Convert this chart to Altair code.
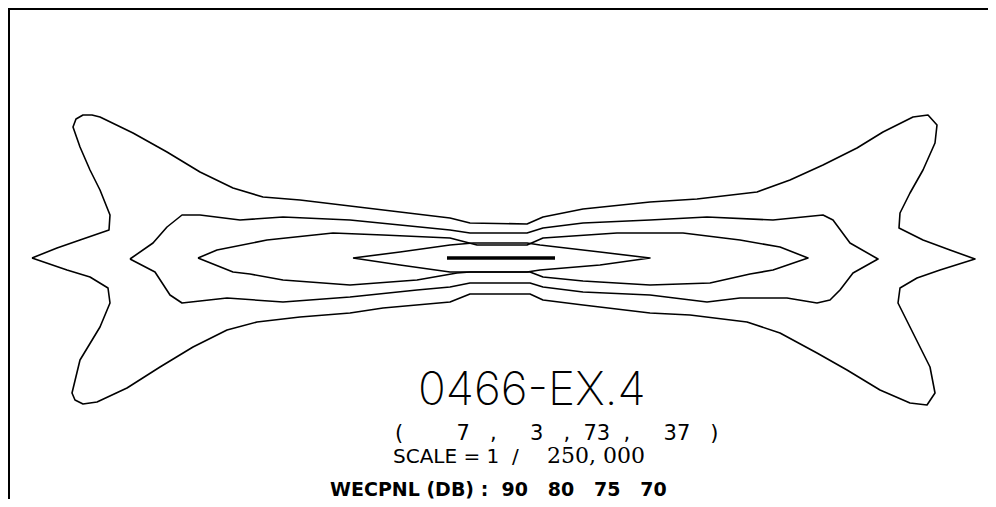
import altair as alt
import pandas as pd

# Noise contour map 0466-EX.4 (WECPNL). Coordinates in map units (left->right, top->down)

levels = ["70", "75", "80", "90"]

c70_x = [32, 57, 80, 109, 110, 100, 90, 80, 73, 76, 83, 92, 100, 133, 167, 200, 233, 263, 300, 350, 400, 450, 470,
         527, 543, 583, 650, 697, 757, 790, 823, 857, 883, 913, 928, 937, 935, 923, 910, 900, 899, 923, 950, 975,
         940, 917, 900, 898, 913, 930, 935, 927, 910, 880, 847, 817, 780, 747, 690, 650, 583, 543, 530, 470, 450,
         383, 350, 300, 257, 227, 193, 160, 127, 97, 83, 75, 72, 80, 100, 110, 108, 90, 67]
c70_y = [258, 248, 240, 230, 215, 190, 170, 147, 127, 119, 115, 115, 117, 133, 152, 172, 188, 197, 200, 206, 212, 218, 223,
         224, 217, 209, 202, 199, 192, 180, 165, 148, 132, 117, 115, 125, 143, 170, 193, 213, 228, 240, 250, 259,
         270, 278, 288, 303, 333, 367, 393, 405, 403, 390, 370, 353, 333, 322, 315, 313, 305, 300, 294, 294, 302,
         308, 313, 317, 322, 330, 347, 367, 388, 402, 404, 400, 393, 360, 327, 303, 288, 277, 270]

c75_x = [130, 153, 167, 182, 200, 240, 283, 350, 400, 450, 470, 527, 543, 583, 650, 707, 773, 823, 833, 850, 878,
         853, 840, 830, 817, 787, 740, 707, 650, 583, 543, 530, 470, 450, 417, 350, 283, 227, 182, 170, 155]
c75_y = [259, 243, 227, 215, 215, 220, 217, 220, 225, 230, 233, 233, 228, 223, 220, 217, 220, 215, 220, 243, 259,
         273, 290, 300, 303, 298, 298, 302, 295, 292, 287, 283, 283, 287, 290, 297, 302, 298, 303, 295, 272]

c80_x = [198, 217, 267, 333, 383, 450, 477, 527, 543, 617, 683, 740, 780, 808,
         773, 750, 710, 650, 583, 543, 530, 470, 457, 417, 350, 283, 250, 233]
c80_y = [258, 250, 240, 233, 235, 238, 245, 245, 238, 233, 233, 240, 247, 258,
         270, 274, 283, 285, 281, 277, 272, 272, 273, 280, 285, 280, 274, 272]

c90_x = [353, 400, 450, 473, 527, 540, 600, 650, 600, 540, 527, 473, 450, 400]
c90_y = [258, 252, 245, 243, 243, 245, 252, 258, 265, 270, 272, 272, 272, 265]

runway_x = [447, 555]
runway_y = [258, 258]

NB = "\u00a0"
title_text = "0466-EX.4"
params_text = ("(" + NB * 8 + "7" + NB * 3 + "," + NB * 5 + "3" + NB * 3 + "," + NB * 2 + "73"
               + NB * 2 + "," + NB * 5 + "37" + NB * 3 + ")")
scale_label = "SCALE" + NB + "=" + NB + "1" + NB * 2 + "/"
scale_value = "250," + NB + "000"
legend_text = ("WECPNL" + NB + "(DB)" + NB + ":" + NB * 2 + "90" + NB * 3 + "80" + NB * 3 + "75" + NB * 3 + "70")

rows = []
for lev, xs, ys in [("70", c70_x, c70_y), ("75", c75_x, c75_y), ("80", c80_x, c80_y), ("90", c90_x, c90_y)]:
    pts = list(zip(xs, ys)) + [(xs[0], ys[0])]
    for i, (px, py) in enumerate(pts):
        rows.append({"level": lev, "i": i, "x": px, "y": py})
contours = pd.DataFrame(rows)
runway = pd.DataFrame({"x": runway_x, "y": runway_y, "i": [0, 1]})

W, H = 980, 491
xs = alt.Scale(domain=[8, 988], nice=False, zero=False)
ys = alt.Scale(domain=[8, 499], nice=False, zero=False, reverse=True)

lines = alt.Chart(contours).mark_line(color="black", strokeWidth=1.6, strokeJoin="round").encode(
    x=alt.X("x:Q", scale=xs, axis=None),
    y=alt.Y("y:Q", scale=ys, axis=None),
    detail="level:N",
    order="i:Q",
)

rw = alt.Chart(runway).mark_line(color="black", strokeWidth=3.5).encode(
    x=alt.X("x:Q", scale=xs, axis=None),
    y=alt.Y("y:Q", scale=ys, axis=None),
    order="i:Q",
)

one = pd.DataFrame({"k": [0]})
top_border = alt.Chart(one).mark_rule(color="black", strokeWidth=2).encode(
    x=alt.value(0), x2=alt.value(W), y=alt.value(1))
left_border = alt.Chart(one).mark_rule(color="black", strokeWidth=2).encode(
    x=alt.value(1), y=alt.value(0), y2=alt.value(H))

title = alt.Chart(one).mark_text(text=title_text, font="Inter", fontWeight=200, fontSize=46,
                                 align="left", baseline="alphabetic", color="black").encode(
    x=alt.value(410), y=alt.value(397))
params = alt.Chart(one).mark_text(text=params_text, font="DejaVu Sans", fontSize=21,
                                  align="left", baseline="alphabetic", color="black").encode(
    x=alt.value(387), y=alt.value(432))
scale1 = alt.Chart(one).mark_text(text=scale_label, font="DejaVu Sans", fontSize=20,
                                  align="left", baseline="alphabetic", color="black").encode(
    x=alt.value(385), y=alt.value(455))
scale2 = alt.Chart(one).mark_text(text=scale_value, font="DejaVu Serif", fontSize=22,
                                  align="left", baseline="alphabetic", color="black").encode(
    x=alt.value(539), y=alt.value(455))
legend = alt.Chart(one).mark_text(text=legend_text, font="DejaVu Sans", fontWeight="bold", fontSize=19,
                                  align="left", baseline="alphabetic", color="black").encode(
    x=alt.value(322), y=alt.value(488))

chart = alt.layer(lines, rw, top_border, left_border, title, params, scale1, scale2, legend).properties(
    width=W, height=H, padding=0, autosize=alt.AutoSizeParams(type="none"),
    background="white",
).configure_view(stroke=None)

chart.save("out.html", embed_options={"renderer": "svg", "actions": False})
